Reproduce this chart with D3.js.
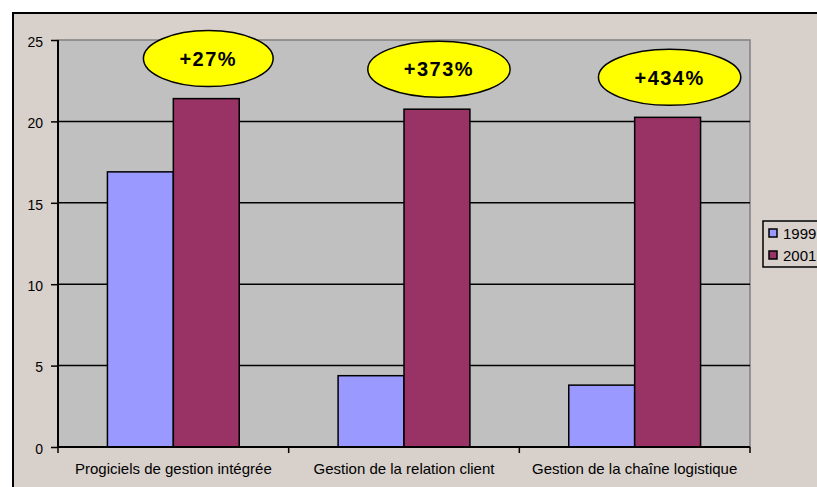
<!DOCTYPE html>
<html>
<head>
<meta charset="utf-8">
<script src="https://cdn.jsdelivr.net/npm/d3@7"></script>
<style>
  body { margin: 0; background: #ffffff; }
  svg { display: block; font-family: Arial, "Liberation Sans", sans-serif; }
</style>
</head>
<body>
<div id="chart"></div>
<script>
// Chart data
const categories = ["Progiciels de gestion intégrée", "Gestion de la relation client", "Gestion de la chaîne logistique"];
const seriesNames = ["1999", "2001"];
const values1999 = [16.9, 4.38, 3.8];
const values2001 = [21.4, 20.75, 20.25];
const growthLabels = ["+27%", "+373%", "+434%"];
const yTicks = [0, 5, 10, 15, 20, 25];

const colors = { "1999": "#9999ff", "2001": "#993366" };

const W = 817, H = 487;
const plot = { left: 58, top: 40, right: 750, bottom: 447 };

const svg = d3.select("#chart")
  .append("svg")
  .attr("width", W)
  .attr("height", H);

// chart area background + frame
svg.append("rect")
  .attr("x", 13).attr("y", 13)
  .attr("width", W).attr("height", H)
  .attr("fill", "#d8d0cb")
  .attr("stroke", "#000").attr("stroke-width", 2);

const x0 = d3.scaleBand()
  .domain(categories)
  .range([plot.left, plot.right])
  .padding(0);

const x1 = d3.scaleBand()
  .domain(seriesNames)
  .range([0, x0.bandwidth()])
  .paddingInner(0)
  .paddingOuter(0.75);

const y = d3.scaleLinear()
  .domain([0, 25])
  .range([plot.bottom, plot.top]);

// plot area
svg.append("rect")
  .attr("x", plot.left).attr("y", plot.top)
  .attr("width", plot.right - plot.left)
  .attr("height", plot.bottom - plot.top)
  .attr("fill", "#c0c0c0")
  .attr("stroke", "#808080").attr("stroke-width", 1.5);

// gridlines
svg.append("g")
  .selectAll("line")
  .data(yTicks.filter(d => d > 0 && d < 25))
  .enter()
  .append("line")
  .attr("x1", plot.left).attr("x2", plot.right)
  .attr("y1", d => y(d)).attr("y2", d => y(d))
  .attr("stroke", "#000").attr("stroke-width", 1.5);

// bars
const rows = categories.map((c, i) => ({ cat: c, vals: [
  { s: "1999", v: values1999[i] },
  { s: "2001", v: values2001[i] }
]}));

const groups = svg.append("g")
  .selectAll("g")
  .data(rows)
  .enter()
  .append("g")
  .attr("transform", d => `translate(${x0(d.cat)},0)`);

groups.selectAll("rect")
  .data(d => d.vals)
  .enter()
  .append("rect")
  .attr("x", d => x1(d.s))
  .attr("y", d => y(d.v))
  .attr("width", x1.bandwidth())
  .attr("height", d => y(0) - y(d.v))
  .attr("fill", d => colors[d.s])
  .attr("stroke", "#000")
  .attr("stroke-width", 1.5);

// y axis
const yAxis = svg.append("g")
  .attr("transform", `translate(${plot.left},0)`)
  .call(d3.axisLeft(y).tickValues(yTicks).tickSize(7).tickPadding(8));
yAxis.select(".domain").attr("stroke", "#000").attr("stroke-width", 2).attr("d", `M0,${plot.top}V${plot.bottom}`);
yAxis.selectAll(".tick line").attr("stroke", "#000").attr("stroke-width", 1.5);
yAxis.selectAll(".tick text")
  .attr("font-size", "14px").attr("fill", "#000")
  .attr("font-family", "Arial, 'Liberation Sans', sans-serif")
  .attr("dy", "0.45em");

// x axis
const xAxis = svg.append("g")
  .attr("transform", `translate(0,${plot.bottom})`)
  .call(d3.axisBottom(x0).tickSize(0).tickPadding(16));
xAxis.select(".domain").attr("stroke", "#000").attr("stroke-width", 2).attr("d", `M${plot.left},0H${plot.right}`);
xAxis.selectAll(".tick text")
  .attr("font-size", "15px").attr("fill", "#000")
  .attr("font-family", "Arial, 'Liberation Sans', sans-serif");

// category boundary ticks
svg.append("g")
  .selectAll("line")
  .data(categories.concat([null]))
  .enter()
  .append("line")
  .attr("x1", d => d === null ? plot.right : x0(d))
  .attr("x2", d => d === null ? plot.right : x0(d))
  .attr("y1", plot.bottom).attr("y2", plot.bottom + 6)
  .attr("stroke", "#000").attr("stroke-width", 1.5);

// growth callouts
const callouts = svg.append("g")
  .selectAll("g")
  .data(categories.map((c, i) => ({ cat: c, v: values2001[i], label: growthLabels[i] })))
  .enter()
  .append("g")
  .attr("transform", d => `translate(${x0(d.cat) + x1("2001") + x1.bandwidth() / 2 + 2},${y(d.v) - 40})`);

callouts.append("text")
  .attr("text-anchor", "middle")
  .attr("dy", "0.36em")
  .attr("font-size", "20px")
  .attr("font-weight", "bold")
  .attr("letter-spacing", "1.5px")
  .attr("fill", "#000")
  .text(d => d.label);

callouts.insert("ellipse", "text")
  .attr("cx", 0).attr("cy", 0)
  .attr("rx", function() {
    const t = d3.select(this.parentNode).select("text").node();
    return t.getComputedTextLength() / 2 + 36;
  })
  .attr("ry", 28)
  .attr("fill", "#ffff00")
  .attr("stroke", "#000")
  .attr("stroke-width", 1.5);

// legend
const legend = svg.append("g").attr("transform", "translate(763,221)");
legend.append("rect")
  .attr("width", 80).attr("height", 46)
  .attr("fill", "#d8d0cb")
  .attr("stroke", "#000").attr("stroke-width", 1.5);

const items = legend.selectAll("g")
  .data(seriesNames)
  .enter()
  .append("g")
  .attr("transform", (d, i) => `translate(6,${8 + i * 22})`);

items.append("rect")
  .attr("width", 8).attr("height", 8)
  .attr("fill", d => colors[d])
  .attr("stroke", "#000").attr("stroke-width", 1.5);

items.append("text")
  .attr("x", 14).attr("y", 4)
  .attr("dy", "0.4em")
  .attr("font-size", "15px")
  .attr("fill", "#000")
  .text(d => d);
</script>
</body>
</html>
